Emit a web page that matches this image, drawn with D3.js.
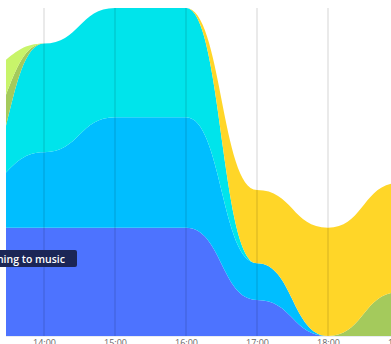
<!DOCTYPE html>
<html>
<head>
<meta charset="utf-8">
<script src="https://cdn.jsdelivr.net/npm/d3@7"></script>
<style>
  html, body { margin: 0; padding: 0; background: #fff; overflow: hidden; }
  svg { display: block; }
</style>
</head>
<body>
<svg id="chart" width="391" height="344"></svg>
<script>
// Hours of the day (x positions of the samples)
const hours = [13, 14, 15, 16, 17, 18, 19];
const hourLabels = ["13:00", "14:00", "15:00", "16:00", "17:00", "18:00", "19:00"];

// Minutes per hour spent on each activity (stacked bottom to top)
const listeningToMusic = [19.8, 19.8, 19.8, 19.8, 6.6, 0, 0];
const reading          = [7.3, 13.8, 20.2, 20.2, 6.7, 0, 0];
const watchingTv       = [0, 19.9, 20.0, 20.0, 0, 0, 0];
const gardening        = [10.0, 0, 0, 0, 0, 0, 8.0];
const cooking          = [0, 0, 0, 0, 13.4, 19.8, 20.0];
const walking          = [11.2, 0, 0, 0, 0, 0, 0];

const seriesNames  = ["Listening to music", "Reading", "Watching TV", "Gardening", "Cooking", "Walking"];
const seriesValues = [listeningToMusic, reading, watchingTv, gardening, cooking, walking];
const seriesColors = ["#4d73ff", "#00beff", "#00e4eb", "#a4ca5c", "#ffd628", "#c8f46a"];

const W = 391, H = 344;
const plot = { left: 6, right: 391, top: 8, bottom: 336 };

const rows = hours.map((h, i) => {
  const r = { hour: h };
  seriesNames.forEach((name, k) => { r[name] = seriesValues[k][i]; });
  return r;
});

const stack = d3.stack().keys(seriesNames).order(d3.stackOrderNone).offset(d3.stackOffsetNone);
const layers = stack(rows);

const x = d3.scaleLinear().domain([13, 19]).range([-27, 399]);
const y = d3.scaleLinear().domain([0, 60]).range([plot.bottom, plot.top]);

const svg = d3.select("#chart");

svg.append("defs").append("clipPath").attr("id", "plot-clip")
  .append("rect")
  .attr("x", plot.left).attr("y", 0)
  .attr("width", plot.right - plot.left).attr("height", plot.bottom + 1);

const area = d3.area()
  .curve(d3.curveBumpX)
  .x(d => x(d.data.hour))
  .y0(d => y(d[0]))
  .y1(d => y(d[1]));

const g = svg.append("g").attr("clip-path", "url(#plot-clip)");

g.selectAll("path.layer")
  .data(layers)
  .join("path")
  .attr("class", "layer")
  .attr("fill", (d, i) => seriesColors[i])
  .attr("d", area);

// Hour gridlines, drawn over the areas
g.selectAll("line.grid")
  .data(hours)
  .join("line")
  .attr("class", "grid")
  .attr("x1", d => x(d)).attr("x2", d => x(d))
  .attr("y1", plot.top).attr("y2", plot.bottom)
  .attr("stroke", "rgba(0,0,0,0.14)")
  .attr("stroke-width", 1.2);

// Baseline
svg.append("line")
  .attr("x1", plot.left).attr("x2", plot.right)
  .attr("y1", plot.bottom + 0.5).attr("y2", plot.bottom + 0.5)
  .attr("stroke", "#e8ecf2").attr("stroke-width", 1);

// Hour axis
const axis = d3.axisBottom(x)
  .tickValues(hours)
  .tickFormat((d, i) => hourLabels[i])
  .tickSize(0)
  .tickPadding(3.5);

const axisG = svg.append("g")
  .attr("transform", `translate(0,${plot.bottom})`)
  .call(axis);
axisG.select(".domain").remove();
axisG.selectAll("text")
  .attr("fill", "#666")
  .attr("font-family", "'Open Sans', sans-serif")
  .attr("font-size", 9);

// Tooltip for the hovered series
const tip = svg.append("g").attr("transform", "translate(0,250)");
tip.append("rect")
  .attr("x", -60).attr("y", 0)
  .attr("width", 137).attr("height", 17)
  .attr("rx", 2)
  .attr("fill", "#1b2656");
tip.append("text")
  .attr("x", 65).attr("y", 12.5)
  .attr("text-anchor", "end")
  .attr("fill", "#fff")
  .attr("font-family", "'Open Sans', sans-serif")
  .attr("font-weight", 600)
  .attr("font-size", 10.5)
  .text(seriesNames[0]);
</script>
</body>
</html>
